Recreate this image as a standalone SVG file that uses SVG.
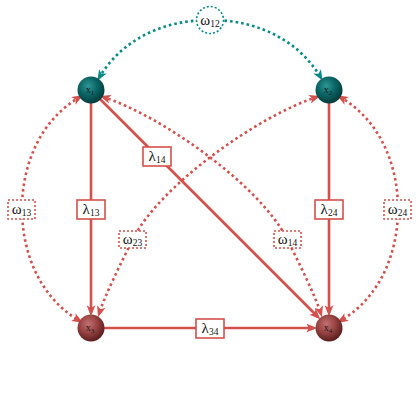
<svg xmlns="http://www.w3.org/2000/svg" width="420" height="420" viewBox="0 0 420 420">
<style>
.solid{fill:none;stroke:#d4504c;stroke-width:2.6}
.dotr{fill:none;stroke:#d4504c;stroke-width:2.6;stroke-dasharray:2.6 3}
.dott{fill:none;stroke:#0a8a86;stroke-width:2.6;stroke-dasharray:2.6 3}
.lbox{fill:#fff;stroke:#d4504c;stroke-width:1.6}
.wbox{fill:#fff;stroke:#d4504c;stroke-width:1.6;stroke-dasharray:2 2}
.wcirc{fill:#fff;stroke:#0a8a86;stroke-width:1.6;stroke-dasharray:2 2}
.lab{font-family:"Liberation Serif",serif;font-size:15px;fill:#111;text-anchor:middle}
.nlab{font-family:"Liberation Serif",serif;font-size:10px;fill:#1a1a1a;text-anchor:middle}
</style>
<defs>
<radialGradient id="gt" cx="0.4" cy="0.35" r="0.65">
<stop offset="0" stop-color="#2f9696"/>
<stop offset="0.5" stop-color="#0b6666"/>
<stop offset="1" stop-color="#033c3c"/>
</radialGradient>
<radialGradient id="gr" cx="0.4" cy="0.35" r="0.65">
<stop offset="0" stop-color="#c27070"/>
<stop offset="0.5" stop-color="#9a4444"/>
<stop offset="1" stop-color="#5a1e1e"/>
</radialGradient>
<marker id="ar" viewBox="0 0 10 8" refX="7" refY="4" markerWidth="11" markerHeight="9" markerUnits="userSpaceOnUse" orient="auto-start-reverse">
<path d="M0,0 L10,4 L0,8 L2.5,4 z" fill="#d4504c"/>
</marker>
<marker id="at" viewBox="0 0 10 8" refX="7" refY="4" markerWidth="11" markerHeight="9" markerUnits="userSpaceOnUse" orient="auto-start-reverse">
<path d="M0,0 L10,4 L0,8 L2.5,4 z" fill="#0a8a86"/>
</marker>
</defs>
<g id="connectors">
<path class="dott" d="M99,78 C120,42 160,20 210,20 C260,20 300,42 321,78" marker-start="url(#at)" marker-end="url(#at)"/>
<path class="dotr" d="M80,97 C40,120 22,165 22,209 C22,253 40,298 80,321" marker-start="url(#ar)" marker-end="url(#ar)"/>
<path class="dotr" d="M340,97 C380,120 398,165 398,209 C398,253 380,298 340,321" marker-start="url(#ar)" marker-end="url(#ar)"/>
<path class="dotr" d="M317,97 C260,115 160,185 133,239 C120,265 105,295 99,314" marker-start="url(#ar)" marker-end="url(#ar)"/>
<path class="dotr" d="M103,97 C160,115 260,185 287,239 C300,265 315,295 321,314" marker-start="url(#ar)" marker-end="url(#ar)"/>
<path class="solid" d="M91,103 L91,313" marker-end="url(#ar)"/>
<path class="solid" d="M329,103 L329,313" marker-end="url(#ar)"/>
<path class="solid" d="M104,328 L314,328" marker-end="url(#ar)"/>
<path class="solid" d="M100,99 L318,317" marker-end="url(#ar)"/>
<circle class="wcirc" cx="210" cy="20" r="13.5"/>
<text class="lab" x="210" y="25">ω<tspan font-size="9.5" dy="2">12</tspan></text>
<rect class="wbox" x="8" y="200" width="27" height="19"/>
<text class="lab" x="21.5" y="214">ω<tspan font-size="9.5" dy="2">13</tspan></text>
<rect class="wbox" x="384" y="200" width="27" height="19"/>
<text class="lab" x="397.5" y="214">ω<tspan font-size="9.5" dy="2">24</tspan></text>
<rect class="wbox" x="119" y="231" width="27" height="17"/>
<text class="lab" x="132.5" y="244">ω<tspan font-size="9.5" dy="2">23</tspan></text>
<rect class="wbox" x="274" y="231" width="27" height="17"/>
<text class="lab" x="287.5" y="244">ω<tspan font-size="9.5" dy="2">14</tspan></text>
<rect class="lbox" x="77" y="200" width="28" height="19"/>
<text class="lab" x="91" y="214">λ<tspan font-size="9.5" dy="2">13</tspan></text>
<rect class="lbox" x="315" y="200" width="28" height="19"/>
<text class="lab" x="329" y="214">λ<tspan font-size="9.5" dy="2">24</tspan></text>
<rect class="lbox" x="196" y="319" width="28" height="19"/>
<text class="lab" x="210" y="333">λ<tspan font-size="9.5" dy="2">34</tspan></text>
<rect class="lbox" x="143" y="147" width="28" height="19"/>
<text class="lab" x="157" y="161">λ<tspan font-size="9.5" dy="2">14</tspan></text>
</g>
<g id="x1"><circle cx="91" cy="90" r="13.5" fill="url(#gt)"/><text class="nlab" x="90" y="93">x<tspan font-size="7" dy="1.5">1</tspan></text></g>
<g id="x2"><circle cx="329" cy="90" r="13.5" fill="url(#gt)"/><text class="nlab" x="328" y="93">x<tspan font-size="7" dy="1.5">2</tspan></text></g>
<g id="x3"><circle cx="91" cy="328" r="13.5" fill="url(#gr)"/><text class="nlab" x="90" y="331">x<tspan font-size="7" dy="1.5">3</tspan></text></g>
<g id="x4"><circle cx="329" cy="328" r="13.5" fill="url(#gr)"/><text class="nlab" x="328" y="331">x<tspan font-size="7" dy="1.5">4</tspan></text></g>
</svg>
